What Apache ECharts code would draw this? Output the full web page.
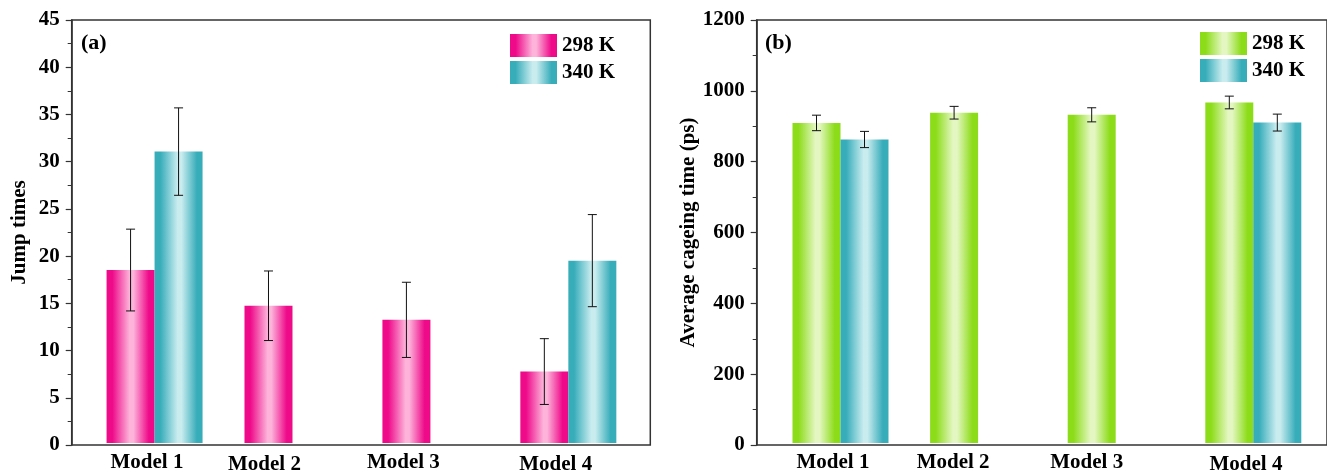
<!DOCTYPE html>
<html>
<head>
<meta charset="utf-8">
<script src="https://cdn.jsdelivr.net/npm/echarts@6/dist/echarts.min.js"></script>
<style>
html,body{margin:0;padding:0;background:#fff;}
#c{width:1327px;height:475px;}
</style>
</head>
<body>
<div id="c"></div>
<script>
// ---------- data ----------
const categories = ['Model 1', 'Model 2', 'Model 3', 'Model 4'];
const seriesNames = ['298 K', '340 K'];

// Panel (a): Jump times
const jump298 = [18.4, 14.6, 13.1, 7.6];
const jump298Err = [4.35, 3.7, 4.0, 3.5];
const jump340 = [31.0, null, null, 19.4];
const jump340Err = [4.65, null, null, 4.9];

// Panel (b): Average cageing time (ps)
const cage298 = [908, 937, 931, 966];
const cage298Err = [22, 18, 20, 18];
const cage340 = [861, null, null, 909];
const cage340Err = [23, null, null, 24];

// ---------- style config ----------
const FONT = 'Liberation Serif';
const AXIS_COLOR = '#333';
const BAR_W = 48;
const labelShiftA = [[-7.6, 0], [-28, 2], [-27, 0], [-12.6, 2]];
const labelShiftB = [[-7.5, 0], [-25, 0], [-29, 0], [-7.3, 2]];

function grad(edge, mid) {
  return {
    type: 'linear', x: 0, y: 0, x2: 1, y2: 0,
    colorStops: [
      { offset: 0, color: edge },
      { offset: 0.12, color: edge },
      { offset: 0.48, color: mid },
      { offset: 0.56, color: mid },
      { offset: 0.88, color: edge },
      { offset: 1, color: edge }
    ]
  };
}
const magenta = grad('#ee0a89', '#fdb3da');
const cyan = grad('#38adba', '#c9ecef');
const green = grad('#8cdc1a', '#e4f7c2');

function richFor(shifts) {
  const r = {};
  shifts.forEach((s, i) => {
    const dx = s[0], dy = s[1];
    r['s' + i] = {
      fontFamily: FONT, fontWeight: 'bold', fontSize: 21, color: '#000',
      padding: [dy, dx < 0 ? -2 * dx : 0, 0, dx > 0 ? 2 * dx : 0]
    };
  });
  return r;
}

function errData(vals, errs) {
  const out = [];
  vals.forEach((v, i) => {
    if (v !== null && errs[i] !== null) out.push([i, v - errs[i], v + errs[i]]);
  });
  return out;
}

function errSeries(name, vals, errs, xi, yi, side) {
  return {
    type: 'custom',
    name: name,
    xAxisIndex: xi, yAxisIndex: yi,
    z: 10,
    silent: true,
    data: errData(vals, errs),
    encode: { x: 0, y: [1, 2] },
    renderItem: function (params, api) {
      const idx = api.value(0);
      const lo = api.coord([idx, api.value(1)]);
      const hi = api.coord([idx, api.value(2)]);
      const x = lo[0] + side * BAR_W / 2;
      const cap = 4.5;
      const st = { stroke: '#111', lineWidth: 1 };
      return {
        type: 'group',
        children: [
          { type: 'line', shape: { x1: x, y1: lo[1], x2: x, y2: hi[1] }, style: st },
          { type: 'line', shape: { x1: x - cap, y1: lo[1], x2: x + cap, y2: lo[1] }, style: st },
          { type: 'line', shape: { x1: x - cap, y1: hi[1], x2: x + cap, y2: hi[1] }, style: st }
        ]
      };
    }
  };
}

function frameYAxis(gridIndex, max, interval, name, nameGap) {
  return {
    gridIndex: gridIndex, type: 'value', min: 0, max: max, interval: interval,
    name: name, nameLocation: 'middle', nameGap: nameGap,
    nameTextStyle: { fontFamily: FONT, fontWeight: 'bold', fontSize: 21, color: '#000' },
    axisLine: { show: true, lineStyle: { color: AXIS_COLOR, width: 1.5 } },
    axisTick: { show: true, length: 6, lineStyle: { color: AXIS_COLOR, width: 1.2 } },
    minorTick: { show: true, splitNumber: 2, length: 4, lineStyle: { color: AXIS_COLOR, width: 1 } },
    axisLabel: {
      margin: 12, fontFamily: FONT, fontWeight: 'bold', fontSize: 21, color: '#000',
      formatter: v => String(v)
    },
    splitLine: { show: false }
  };
}

function hiddenY(gridIndex, max) {
  return { gridIndex: gridIndex, type: 'value', min: 0, max: max, show: false, splitLine: { show: false } };
}

function catX(gridIndex, shifts) {
  return {
    gridIndex: gridIndex, type: 'category', data: categories,
    axisLine: { show: false }, axisTick: { show: false },
    axisLabel: {
      margin: 9, interval: 0,
      fontFamily: FONT, fontWeight: 'bold', fontSize: 21, color: '#000',
      formatter: (v, i) => '{s' + i + '|' + v + '}',
      rich: richFor(shifts)
    }
  };
}

function barSeries(name, vals, color, xi, yi) {
  return {
    type: 'bar', name: name, xAxisIndex: xi, yAxisIndex: yi,
    data: vals.map(v => (v === null ? '-' : v)),
    barWidth: BAR_W, barGap: '0%',
    itemStyle: { color: color },
    emphasis: { disabled: true }
  };
}

const legendCommon = {
  orient: 'vertical', icon: 'rect', itemWidth: 47, itemHeight: 23, itemGap: 4,
  formatter: n => n.split('|')[1],
  textStyle: { fontFamily: FONT, fontWeight: 'bold', fontSize: 21, color: '#000', padding: [2, 0, 0, 0] },
  selectedMode: false
};

const option = {
  animation: false,
  backgroundColor: '#fff',
  title: [
    { text: '(a)', left: 81, top: 32, textStyle: { fontFamily: FONT, fontWeight: 'bold', fontSize: 22, color: '#000' }, padding: 0 },
    { text: '(b)', left: 765, top: 32, textStyle: { fontFamily: FONT, fontWeight: 'bold', fontSize: 22, color: '#000' }, padding: 0 }
  ],
  legend: [
    Object.assign({}, legendCommon, { left: 510, top: 34, data: ['a|' + seriesNames[0], 'a|' + seriesNames[1]], padding: 0 }),
    Object.assign({}, legendCommon, { left: 1200, top: 32, data: ['b|' + seriesNames[0], 'b|' + seriesNames[1]], padding: 0 })
  ],
  grid: [
    // frames
    { left: 71.7, right: 1327 - 650.3, top: 20, bottom: 30, show: true, borderColor: AXIS_COLOR, borderWidth: 1.5 },
    { left: 756.7, right: -3, top: 20, bottom: 30, show: true, borderColor: AXIS_COLOR, borderWidth: 1.5 },
    // bar areas
    { left: 85.6, right: 1327 - 637.3, top: 20, bottom: 30 },
    { left: 771.7, right: 1327 - 1322.1, top: 20, bottom: 30 }
  ],
  xAxis: [
    { gridIndex: 0, type: 'value', show: false, min: 0, max: 1 },
    { gridIndex: 1, type: 'value', show: false, min: 0, max: 1 },
    catX(2, labelShiftA),
    catX(3, labelShiftB)
  ],
  yAxis: [
    frameYAxis(0, 45, 5, 'Jump times', 42),
    frameYAxis(1, 1200, 200, 'Average cageing time (ps)', 55),
    hiddenY(2, 45),
    hiddenY(3, 1200)
  ],
  series: [
    barSeries('a|' + seriesNames[0], jump298, magenta, 2, 2),
    barSeries('a|' + seriesNames[1], jump340, cyan, 2, 2),
    errSeries('a-err298', jump298, jump298Err, 2, 2, -1),
    errSeries('a-err340', jump340, jump340Err, 2, 2, 1),
    barSeries('b|' + seriesNames[0], cage298, green, 3, 3),
    barSeries('b|' + seriesNames[1], cage340, cyan, 3, 3),
    errSeries('b-err298', cage298, cage298Err, 3, 3, -1),
    errSeries('b-err340', cage340, cage340Err, 3, 3, 1)
  ]
};

const chart = echarts.init(document.getElementById('c'), null, { renderer: 'canvas' });
chart.setOption(option);
</script>
</body>
</html>
